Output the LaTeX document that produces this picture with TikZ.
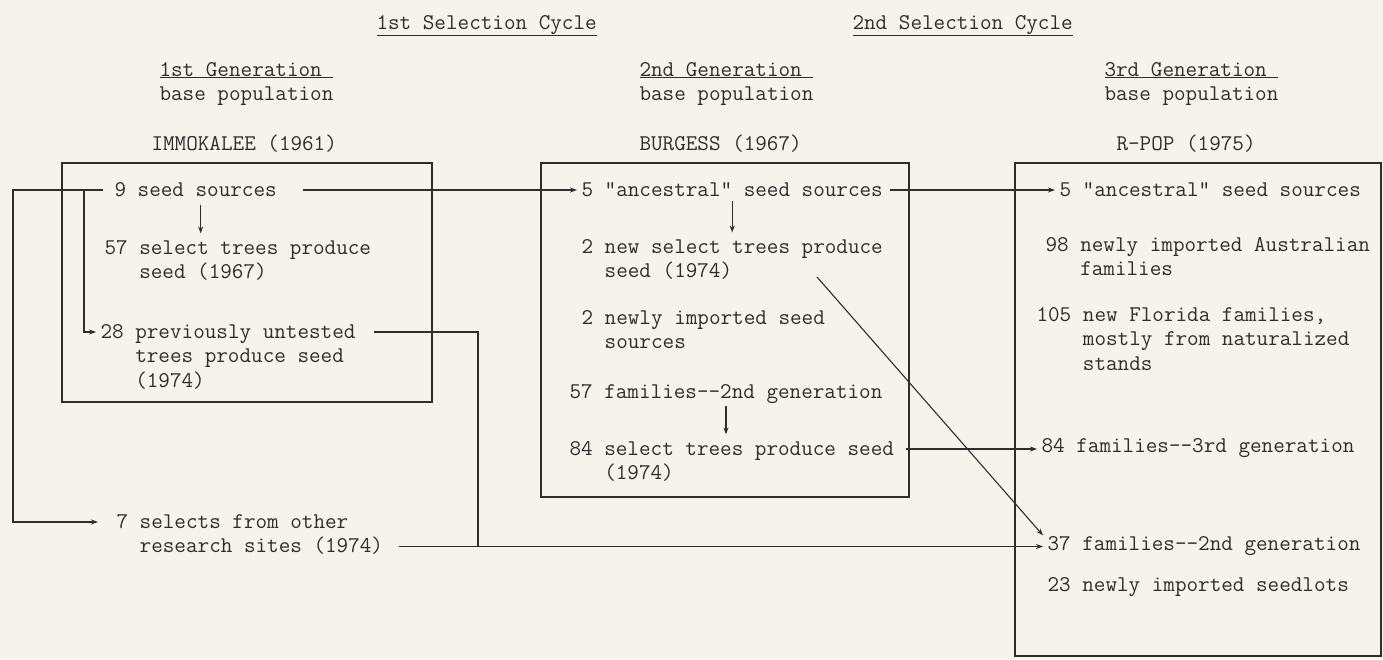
\documentclass[tikz,border=0pt]{standalone}
\usepackage{tikz}
\usepackage{xcolor}
\usetikzlibrary{arrows.meta,positioning,calc}
\definecolor{paper}{RGB}{245,243,236}
\definecolor{ink}{RGB}{48,46,44}
\newcommand{\typew}{\ttfamily\fontsize{22.5}{24.5}\selectfont}

\begin{document}
\begin{tikzpicture}[
    x=1pt, y=-1pt,
    line width=1.1pt, color=ink,
    head/.style={anchor=base west, inner sep=0pt, align=left, font=\typew},
    popitem/.style={anchor=base west, inner xsep=4pt, inner ysep=0pt, align=left, font=\typew},
    pbox/.style={rectangle, draw, inner sep=0pt},
    arrow/.style={-{Stealth[length=7pt, width=5pt]}}
]

% Paper
\fill[paper] (0,0) rectangle (1383,659);
\useasboundingbox (0,0) rectangle (1383,659);

% Selection cycles
\node[head] (cyc1) at (376,29) {\underline{1st Selection Cycle}};
\node[head] (cyc2) at (852,29) {\underline{2nd Selection Cycle}};

% Generations (base = last line)
\node[head] (gen1) at (159,100.5) {\underline{1st Generation\ }\\base population};
\node[head] (gen2) at (639,100.5) {\underline{2nd Generation\ }\\base population};
\node[head] (gen3) at (1104,100.5) {\underline{3rd Generation\ }\\base population};
\node[head] (site1) at (151,150) {IMMOKALEE (1961)};
\node[head] (site2) at (639,150) {BURGESS (1967)};
\node[head] (site3) at (1116,150) {R-POP (1975)};

% Boxes
\node[pbox, minimum width=370pt, minimum height=239pt] (box1) at (247,282.5) {};
\node[pbox, minimum width=368pt, minimum height=334pt] (box2) at (725,330) {};
\node[pbox, minimum width=366pt, minimum height=493pt] (box3) at (1198,409.5) {};

% 1st generation
\node[popitem] (seed9) at (110,196) {9 seed sources};
\node[popitem] (sel57) at (100,278.5) {57 select trees produce\\\hphantom{57 }seed (1967)};
\node[popitem] (unt28) at (96,387) {28 previously untested\\\hphantom{28 }trees produce seed\\\hphantom{28 }(1974)};
\node[popitem] (sel7) at (112,552.5) {7 selects from other\\\hphantom{7 }research sites (1974)};

% 2nd generation
\node[popitem] (anc2) at (577,196) {5 "ancestral" seed sources};
\node[popitem] (new2) at (577,277.5) {2 new select trees produce\\\hphantom{2 }seed (1974)};
\node[popitem] (imp2) at (577,348.5) {2 newly imported seed\\\hphantom{2 }sources};
\node[popitem] (fam57) at (565,398) {57 families-{}-2nd generation};
\node[popitem] (sel84) at (565,479.5) {84 select trees produce seed\\\hphantom{84 }(1974)};

% 3rd generation
\node[popitem] (anc3) at (1055,196) {5 "ancestral" seed sources};
\node[popitem] (aus98) at (1041,275.5) {98 newly imported Australian\\\hphantom{98 }families};
\node[popitem] (fla105) at (1032,370) {105 new Florida families,\\\hphantom{105 }mostly from naturalized\\\hphantom{105 }stands};
\node[popitem] (fam84) at (1037,452) {84 families-{}-3rd generation};
\node[popitem] (fam37) at (1043,550) {37 families-{}-2nd generation};
\node[popitem] (imp23) at (1043,591) {23 newly imported seedlots};

% Junctions
\coordinate (jl) at (13,190);
\coordinate (jm) at (84,190);
\coordinate (j28) at (478,546.5);
\coordinate (d2) at (817,277);

% Connectors
\draw[arrow, shorten <=7pt, shorten >=14pt] ([yshift=6pt]seed9.base west) -- (jl) |- ([yshift=30.5pt]sel7.base west);
\draw[arrow] (jm) |- ([yshift=55pt]unt28.base west);
\draw[arrow, shorten <=22pt] ([yshift=6pt]seed9.base east) -- ([yshift=6pt]anc2.base west);
\draw[arrow, shorten <=8pt, shorten >=6pt] ([xshift=5pt]seed9.south) -- ([xshift=5pt]seed9.south |- sel57.north);
\draw[arrow, shorten <=4pt, shorten >=6pt] (anc2.south) -- (anc2.south |- new2.north);
\draw[arrow, shorten <=2pt, shorten >=6pt] (fam57.south) -- (fam57.south |- sel84.north);
\draw[arrow, shorten <=3pt] ([yshift=6pt]anc2.base east) -- ([yshift=6pt]anc3.base west);
\draw[arrow, shorten <=7pt] ([yshift=30.5pt]sel84.base east) -- ([yshift=30.5pt]sel84.base east -| fam84.west);
\draw[shorten <=14pt] ([yshift=55pt]unt28.base east) -| (j28);
\draw[arrow, shorten <=11pt] ([yshift=6pt]sel7.base east) -- ([yshift=6pt]sel7.base east -| fam37.west);
\draw[arrow] (d2) -- (fam37.north west);

\end{tikzpicture}
\end{document}
